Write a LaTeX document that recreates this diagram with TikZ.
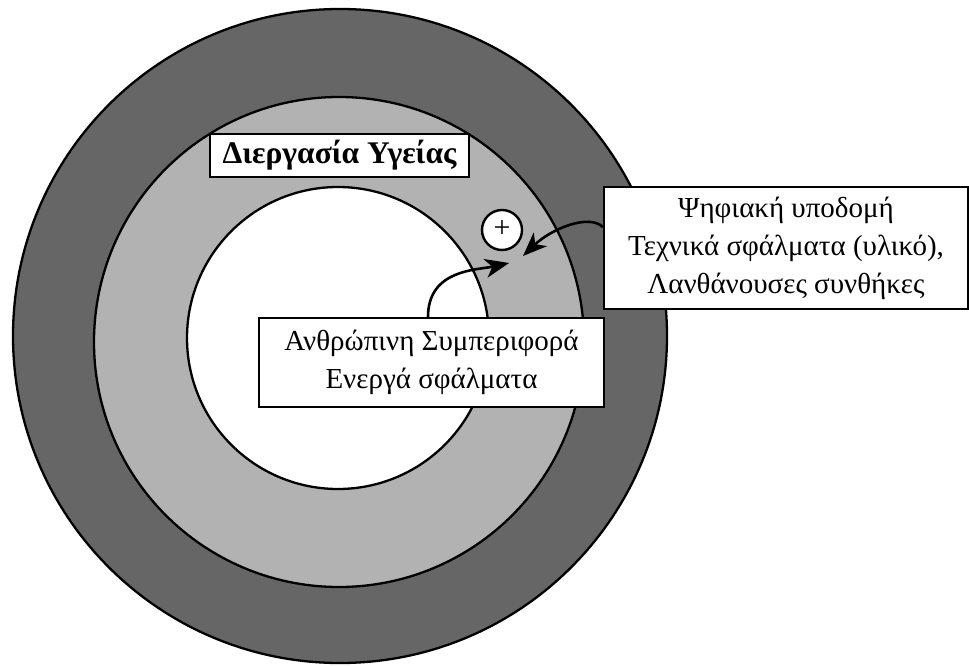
\documentclass[tikz,border=0pt]{standalone}
\usepackage{fontspec}
\setmainfont{Liberation Serif}
\usetikzlibrary{arrows.meta}
\definecolor{ringdark}{HTML}{666666}
\definecolor{ringlight}{HTML}{B2B2B2}
\tikzset{
  ring/.style={circle, draw=black, line width=2.3pt, inner sep=0pt},
  textbox/.style={draw=black, fill=white, line width=2.2pt, inner sep=0pt,
    align=center, font=\fontsize{29}{38}\selectfont},
  titlebox/.style={draw=black, fill=white, line width=2.8pt, inner sep=0pt,
    align=center, font=\fontsize{31.5}{34}\selectfont\bfseries},
  plusmark/.style={circle, draw=black, fill=white, line width=2.4pt, inner sep=0pt,
    minimum size=40pt, font=\fontsize{30}{30}\selectfont},
  flow/.style={line width=2.6pt, -{Stealth[length=24pt,width=19pt,inset=7pt]}}
}
\begin{document}
\begin{tikzpicture}[x=1pt,y=-1pt]
\useasboundingbox (0,0) rectangle (969,666);

% concentric rings
\node[ring, fill=ringdark, minimum size=654pt] (outer) at (340,336) {};
\node[ring, fill=ringlight, minimum size=490pt] (middle) at (339,342) {};
\node[ring, fill=white, minimum size=302pt] (inner) at (338,338) {};

% labels
\node[titlebox, minimum width=259pt, minimum height=43pt] (process) at (339.5,155.5) {Διεργασία Υγείας};
\node[textbox, minimum width=345pt, minimum height=89pt] (human) at (431.5,362.5)
  {Ανθρώπινη Συμπεριφορά\\Ενεργά σφάλματα};
\node[textbox, minimum width=364pt, minimum height=122pt] (digital) at (786,248)
  {Ψηφιακή υποδομή\\Τεχνικά σφάλματα (υλικό),\\Λανθάνουσες συνθήκες};

\node[plusmark] (plus) at (502,230) {\raisebox{1pt}{+}};

% arrow heads meeting below the plus sign
\coordinate (tipA) at (509,263);
\coordinate (tipB) at (523,256);
\draw[flow] ([xshift=-3.5pt]human.north) .. controls +(0,-48) and (478,270) .. (tipA);
\draw[flow] ([yshift=21pt]digital.west) .. controls +(-15,-14) and (550,230) .. (tipB);
\end{tikzpicture}
\end{document}
